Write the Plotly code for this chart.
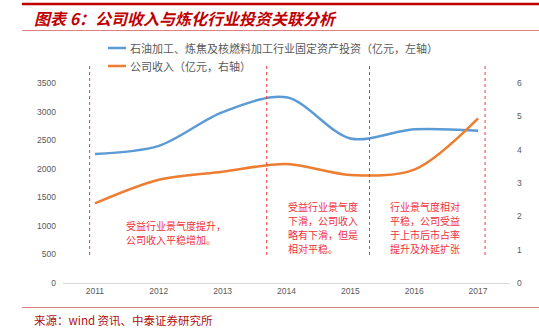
import plotly.graph_objects as go

years = ["2011", "2012", "2013", "2014", "2015", "2016", "2017"]
invest = [2258, 2400, 2990, 3250, 2530, 2690, 2665]   # 亿元，左轴
revenue = [2.39, 3.10, 3.34, 3.57, 3.24, 3.40, 4.94]  # 亿元，右轴
left_ticks = [0, 500, 1000, 1500, 2000, 2500, 3000, 3500]
right_ticks = [0, 1, 2, 3, 4, 5, 6]

name_invest = "石油加工、炼焦及核燃料加工行业固定资产投资（亿元，左轴）"
name_rev = "公司收入（亿元，右轴）"
title_text = "图表 6：公司收入与炼化行业投资关联分析"
source_text = "来源：wind 资讯、中泰证券研究所"
notes = [
    ["受益行业景气度提升，", "公司收入平稳增加。"],
    ["受益行业景气度", "下滑，公司收入", "略有下滑，但是", "相对平稳。"],
    ["行业景气度相对", "平稳，公司受益", "于上市后市占率", "提升及外延扩张"],
]

W, H = 539, 331
L, R, T, B = 63, 510, 83, 283
def px(x):
    return (x - L) / (R - L)
def py(y):
    return (B - y) / (B - T)

BLUE = "#5B9BD5"
ORANGE = "#ED7D31"
GRAY = "#595959"
CJK = "Noto Sans CJK SC"

fig = go.Figure()
fig.add_trace(go.Scatter(x=list(range(len(years))), y=invest, mode="lines",
                         line=dict(color=BLUE, width=2.5, shape="spline", smoothing=0.9),
                         name=name_invest, showlegend=False))
fig.add_trace(go.Scatter(x=list(range(len(years))), y=revenue, mode="lines", yaxis="y2",
                         line=dict(color=ORANGE, width=2.5, shape="spline", smoothing=0.9),
                         name=name_rev, showlegend=False))

shapes = []
annotations = []

# header / footer rules
shapes.append(dict(type="line", xref="paper", yref="paper", x0=px(22), x1=px(539), y0=py(4), y1=py(4),
                   line=dict(color="#C00000", width=2.5)))
shapes.append(dict(type="line", xref="paper", yref="paper", x0=px(22), x1=px(539), y0=py(30.5), y1=py(30.5),
                   line=dict(color="#E08080", width=1)))
shapes.append(dict(type="line", xref="paper", yref="paper", x0=px(22), x1=px(539), y0=py(307.5), y1=py(307.5),
                   line=dict(color="#D98080", width=1)))

# custom legend
for yy, col, txt in [(48, BLUE, name_invest), (66, ORANGE, name_rev)]:
    shapes.append(dict(type="line", xref="paper", yref="paper", x0=px(108), x1=px(126), y0=py(yy), y1=py(yy),
                       line=dict(color=col, width=2.5)))
    annotations.append(dict(xref="paper", yref="paper", x=px(128), y=py(yy), text=txt, showarrow=False,
                            xanchor="left", yanchor="middle",
                            font=dict(family=CJK, size=11, color=GRAY)))

# dashed separators (category positions)
sep_x = [-0.083, 2.69, 4.30, 6.11]
for sx in sep_x:
    shapes.append(dict(type="line", xref="x", yref="paper", x0=sx, x1=sx, y0=py(255), y1=py(66),
                       line=dict(color="#FF3333", width=1, dash="dot")))

# note texts, one annotation per line
note_pos = [(124, 225.5), (285.5, 206), (387.5, 206)]
for (nx, ny), lines in zip(note_pos, notes):
    for k, ln in enumerate(lines):
        annotations.append(dict(xref="paper", yref="paper", x=px(nx), y=py(ny + 14 * k), text=ln,
                                showarrow=False, xanchor="left", yanchor="middle", align="left",
                                font=dict(family=CJK, size=10, color="#F0303C")))

# title & source
annotations.append(dict(xref="paper", yref="paper", x=px(32), y=py(17.5), text="<b><i>" + title_text + "</i></b>",
                        showarrow=False, xanchor="left", yanchor="middle",
                        font=dict(family=CJK, size=16, color="#C00000")))
annotations.append(dict(xref="paper", yref="paper", x=px(32), y=py(320), text=source_text,
                        showarrow=False, xanchor="left", yanchor="middle",
                        font=dict(family=CJK, size=11.5, color="#B01010")))

fig.update_layout(
    width=W, height=H,
    margin=dict(l=L, r=W - R, t=T, b=H - B, pad=0),
    paper_bgcolor="white", plot_bgcolor="white",
    showlegend=False,
    shapes=shapes, annotations=annotations,
    xaxis=dict(tickmode="array", tickvals=list(range(len(years))), ticktext=years,
               range=[-0.5, 6.5], showgrid=False, zeroline=False,
               showline=True, linecolor="#D9D9D9", linewidth=1, ticks="",
               tickfont=dict(family="Liberation Sans", size=8.5, color=GRAY)),
    yaxis=dict(range=[0, 3500], tickvals=left_ticks, showgrid=False, zeroline=False,
               showline=False, ticks="", ticklabelstandoff=6,
               tickfont=dict(family="Liberation Sans", size=8.5, color=GRAY)),
    yaxis2=dict(range=[0, 6], tickvals=right_ticks, overlaying="y", side="right",
                showgrid=False, zeroline=False, showline=False, ticks="", ticklabelstandoff=6,
                tickfont=dict(family="Liberation Sans", size=8.5, color=GRAY)),
)

fig.write_html("out.html")
